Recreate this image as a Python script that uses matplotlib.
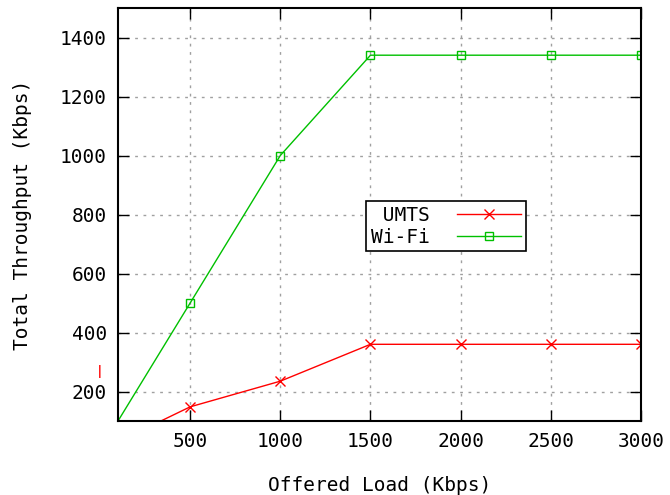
import matplotlib
matplotlib.use("Agg")
import matplotlib.pyplot as plt

# offered load (Kbps)
carga = [0, 500, 1000, 1500, 2000, 2500, 3000]
umts = [0, 148, 235, 360, 360, 360, 360]
wifi = [0, 500, 1000, 1340, 1340, 1340, 1340]

plt.rcParams['font.family'] = ['DejaVu Sans Mono']
plt.rcParams['font.size'] = 14

fig = plt.figure(figsize=(6.7, 4.95), dpi=100)
ax = fig.add_axes([118 / 670, 1 - 421 / 495, 523 / 670, 413 / 495])

ax.plot(carga, umts, color='#ff0000', lw=1, marker='x', ms=7, mew=1, label=' UMTS')
ax.plot(carga, wifi, color='#00c000', lw=1, marker='s', ms=5.5, mew=1,
        markerfacecolor='none', label='Wi-Fi')

ax.set_xlim(100, 3000)
ax.set_ylim(100, 1500)
ax.set_xticks([500, 1000, 1500, 2000, 2500, 3000])
ax.set_yticks([200, 400, 600, 800, 1000, 1200, 1400])
ax.tick_params(direction='in', length=8, width=1, top=True, right=True, pad=8)
ax.grid(True, color='#a0a0a0', linestyle=(0, (2, 4)), lw=1)
for s in ax.spines.values():
    s.set_linewidth(1.5)

ax.set_xlabel('Offered Load (Kbps)', labelpad=18)
ax.set_ylabel('Total Throughput (Kbps)', labelpad=20)

leg = ax.legend(loc='center', bbox_to_anchor=(0.627, 0.472), markerfirst=False,
                fancybox=False, framealpha=1, edgecolor='black',
                handlelength=3.3, handletextpad=1.4, borderpad=0.25,
                labelspacing=0.15, borderaxespad=0)
leg.get_frame().set_linewidth(1.2)

# marca roja suelta junto al eje y
fig.text(100 / 670, 1 - 372 / 495, '|', color='#ff0000', fontsize=9,
         fontweight='bold', ha='center', va='center')

fig.savefig('out.png', dpi=100)
